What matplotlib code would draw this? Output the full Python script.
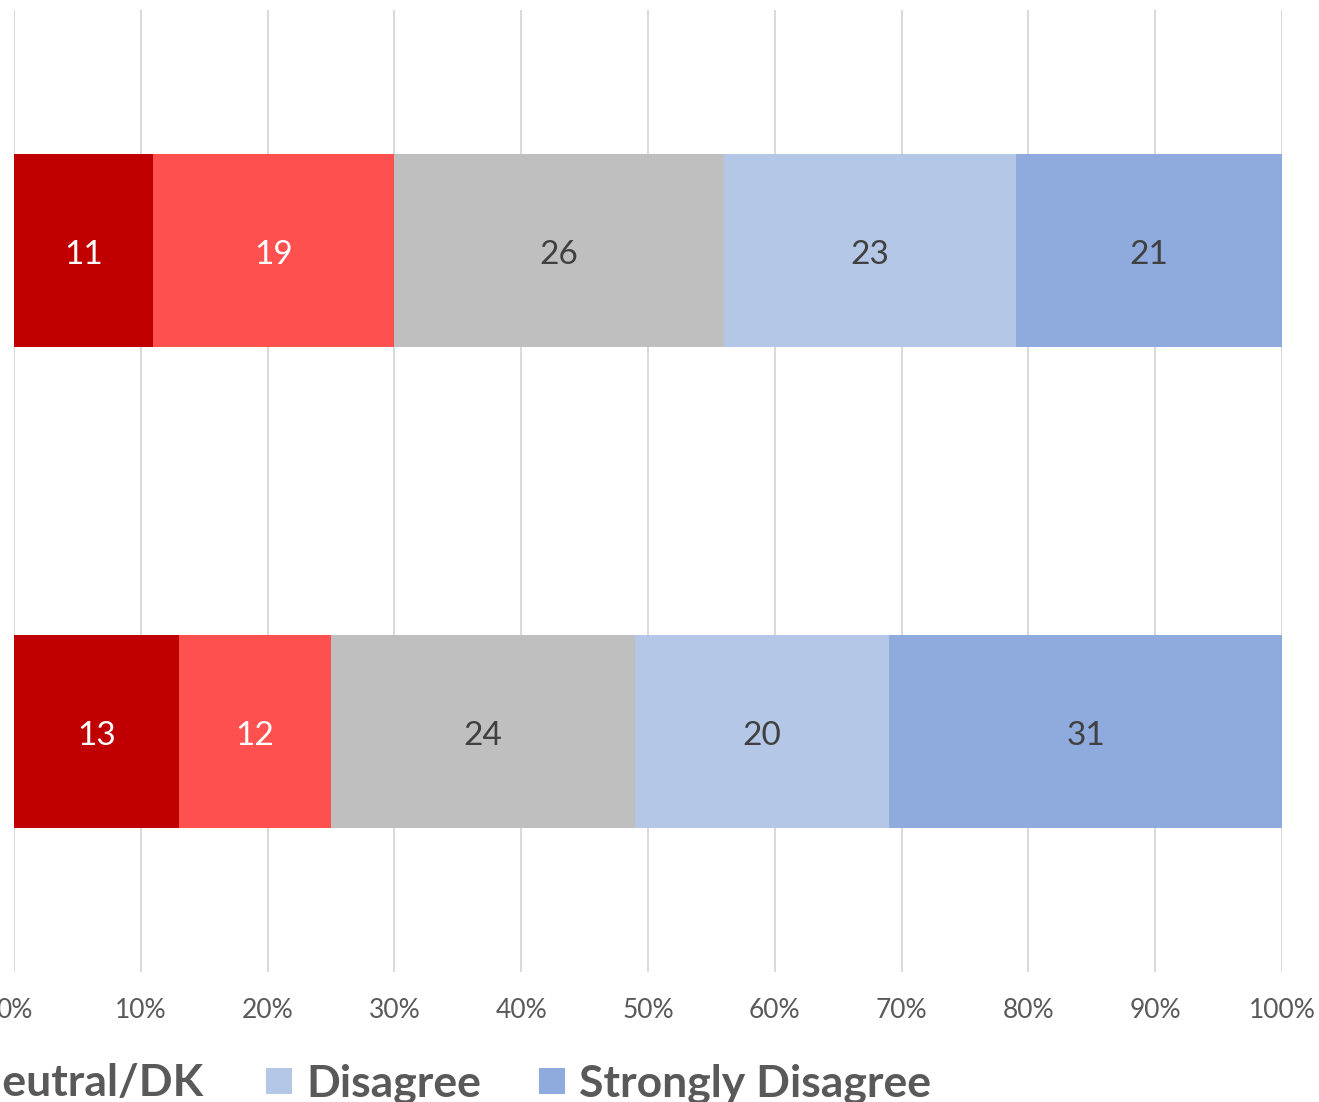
import matplotlib
matplotlib.use("Agg")
import matplotlib.pyplot as plt
from matplotlib.patches import Rectangle
import numpy as np

categories = ["Item B", "Item A"]  # bottom, top (labels cropped in reference)
series_names = ["Strongly Agree", "Agree", "Neutral/DK", "Disagree", "Strongly Disagree"]
strongly_agree = [13, 11]
agree = [12, 19]
neutral = [24, 26]
disagree = [20, 23]
strongly_disagree = [31, 21]
tick_labels = ["0%", "10%", "20%", "30%", "40%", "50%", "60%", "70%", "80%", "90%", "100%"]

series = [strongly_agree, agree, neutral, disagree, strongly_disagree]
colors = ["#C00000", "#FF5050", "#BFBFBF", "#B4C7E7", "#8FAADC"]
label_colors = ["white", "white", "#404040", "#404040", "#404040"]

plt.rcParams['font.family'] = ['Lato', 'DejaVu Sans']

W, H = 1319, 1102
fig = plt.figure(figsize=(W / 100, H / 100), dpi=100)
ax = fig.add_axes([14 / W, 1 - 972 / H, (1282 - 14) / W, (972 - 10) / H])

y = np.arange(len(categories))
left = np.zeros(len(categories))
for vals, c, lc in zip(series, colors, label_colors):
    vals = np.array(vals, dtype=float)
    bars = ax.barh(y, vals, left=left, height=0.4, color=c, edgecolor='none', zorder=2)
    for b, v in zip(bars, vals):
        ax.annotate(f"{int(v)}", (b.get_x() + b.get_width() / 2, b.get_y() + b.get_height() / 2),
                    xytext=(0, -10), textcoords='offset points',
                    ha='center', va='baseline', color=lc, fontsize=24, zorder=3)
    left += vals

ax.set_xlim(0, 100)
ax.set_ylim(-0.5, 1.5)
ax.set_xticks(np.arange(0, 101, 10))
ax.set_xticklabels(tick_labels, fontsize=19, color="#595959")
ax.tick_params(axis='x', length=0, pad=19)
ax.set_yticks([])
ax.grid(axis='x', color="#D9D9D9", linewidth=1.4, zorder=0)
for s in ax.spines.values():
    s.set_visible(False)

# Legend (left part cropped in the reference)
leg_items = [
    (2, None, 204),
    (3, 266, 306),
    (4, 539, 579),
]
for idx, px, tx in leg_items:
    if px is not None:
        fig.patches.append(Rectangle((px / W, 1 - 1094 / H), 26 / W, 26 / H,
                                     transform=fig.transFigure, facecolor=colors[idx],
                                     edgecolor='none'))
        fig.text(tx / W, 1 - 1096 / H, series_names[idx], ha='left', va='baseline',
                 fontsize=32, fontweight='bold', color="#595959")
    else:
        fig.text(tx / W, 1 - 1096 / H, series_names[idx], ha='right', va='baseline',
                 fontsize=32, fontweight='bold', color="#595959")

fig.savefig("out.png", dpi=100)
